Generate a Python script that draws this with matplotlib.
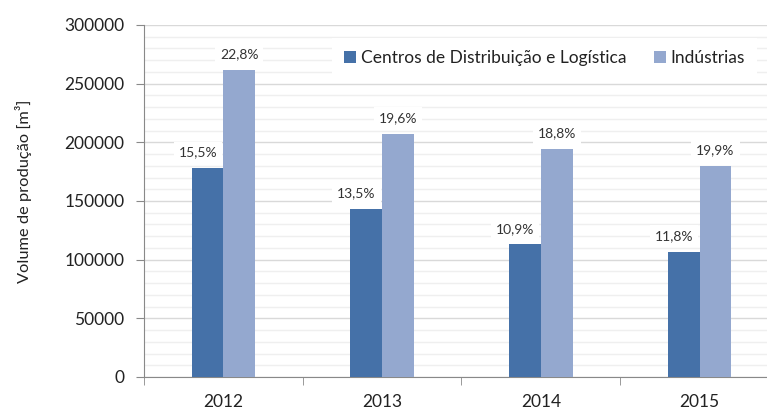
import matplotlib.pyplot as plt
import numpy as np
from matplotlib.ticker import MultipleLocator

plt.rcParams['font.family'] = ['Lato', 'DejaVu Sans']

# dados
anos = ['2012', '2013', '2014', '2015']
centros = [178000, 143000, 113000, 106500]
industrias = [262000, 207500, 194000, 180000]
pct_centros = ['15,5%', '13,5%', '10,9%', '11,8%']
pct_industrias = ['22,8%', '19,6%', '18,8%', '19,9%']

cor_escura = '#4571A8'
cor_clara = '#94A8CF'
cinza = '#898989'

fig = plt.figure(figsize=(7.67, 4.12), dpi=100)
ax = fig.add_axes([0.1877, 0.085, 0.8279, 0.8544])

x = np.arange(len(anos))
w = 0.2
b1 = ax.bar(x - w/2, centros, w, color=cor_escura, label='Centros de Distribuição e Logística', zorder=3)
b2 = ax.bar(x + w/2, industrias, w, color=cor_clara, label='Indústrias', zorder=3)

# rotulos de percentagem
for xi, v, t in zip(x, centros, pct_centros):
    ax.annotate(t, (xi - w/2, v), xytext=(-7, 7), textcoords='offset points',
                ha='center', va='bottom', fontsize=10, color='#333333', zorder=4,
                bbox=dict(boxstyle='square,pad=0.35', fc='white', ec='none'))
for xi, v, t in zip(x, industrias, pct_industrias):
    ax.annotate(t, (xi + w/2, v), xytext=(0, 7), textcoords='offset points',
                ha='center', va='bottom', fontsize=10, color='#333333', zorder=4,
                bbox=dict(boxstyle='square,pad=0.35', fc='white', ec='none'))

# eixos
ax.set_xlim(-0.5, len(anos) - 0.5)
ax.set_ylim(0, 300000)
ax.yaxis.set_major_locator(MultipleLocator(50000))
ax.yaxis.set_minor_locator(MultipleLocator(10000))
ax.grid(axis='y', which='major', color='#d9d9d9', lw=1, zorder=0)
ax.grid(axis='y', which='minor', color='#efefef', lw=1, zorder=0)

ax.set_xticks(x)
ax.set_xticklabels(anos)
ax.set_xticks(np.arange(len(anos)) - 0.5, minor=True)
ax.tick_params(axis='x', which='major', length=0, pad=12, labelsize=12.5, colors='#222222')
ax.tick_params(axis='x', which='minor', length=6, color=cinza)
ax.tick_params(axis='y', which='major', length=6, color=cinza, pad=8, labelsize=12.5, labelcolor='#222222')
ax.tick_params(axis='y', which='minor', length=0)

for s in ['top', 'right']:
    ax.spines[s].set_visible(False)
for s in ['left', 'bottom']:
    ax.spines[s].set_color(cinza)

ax.set_ylabel('Volume de produção [m³]', fontsize=11.8, color='#222222')
ax.yaxis.set_label_coords(-0.176, 0.528)

leg = fig.legend(handles=[b1, b2], loc='center', bbox_to_anchor=(0.71, 0.859), ncol=2,
                 fontsize=12.5, frameon=True, fancybox=False, handlelength=0.7,
                 handleheight=0.7, handletextpad=0.25, columnspacing=1.6, borderpad=0.7)
leg.get_frame().set_facecolor('white')
leg.get_frame().set_edgecolor('none')
leg.get_frame().set_alpha(1)
for txt in leg.get_texts():
    txt.set_color('#222222')

fig.savefig('out.png', dpi=100)
